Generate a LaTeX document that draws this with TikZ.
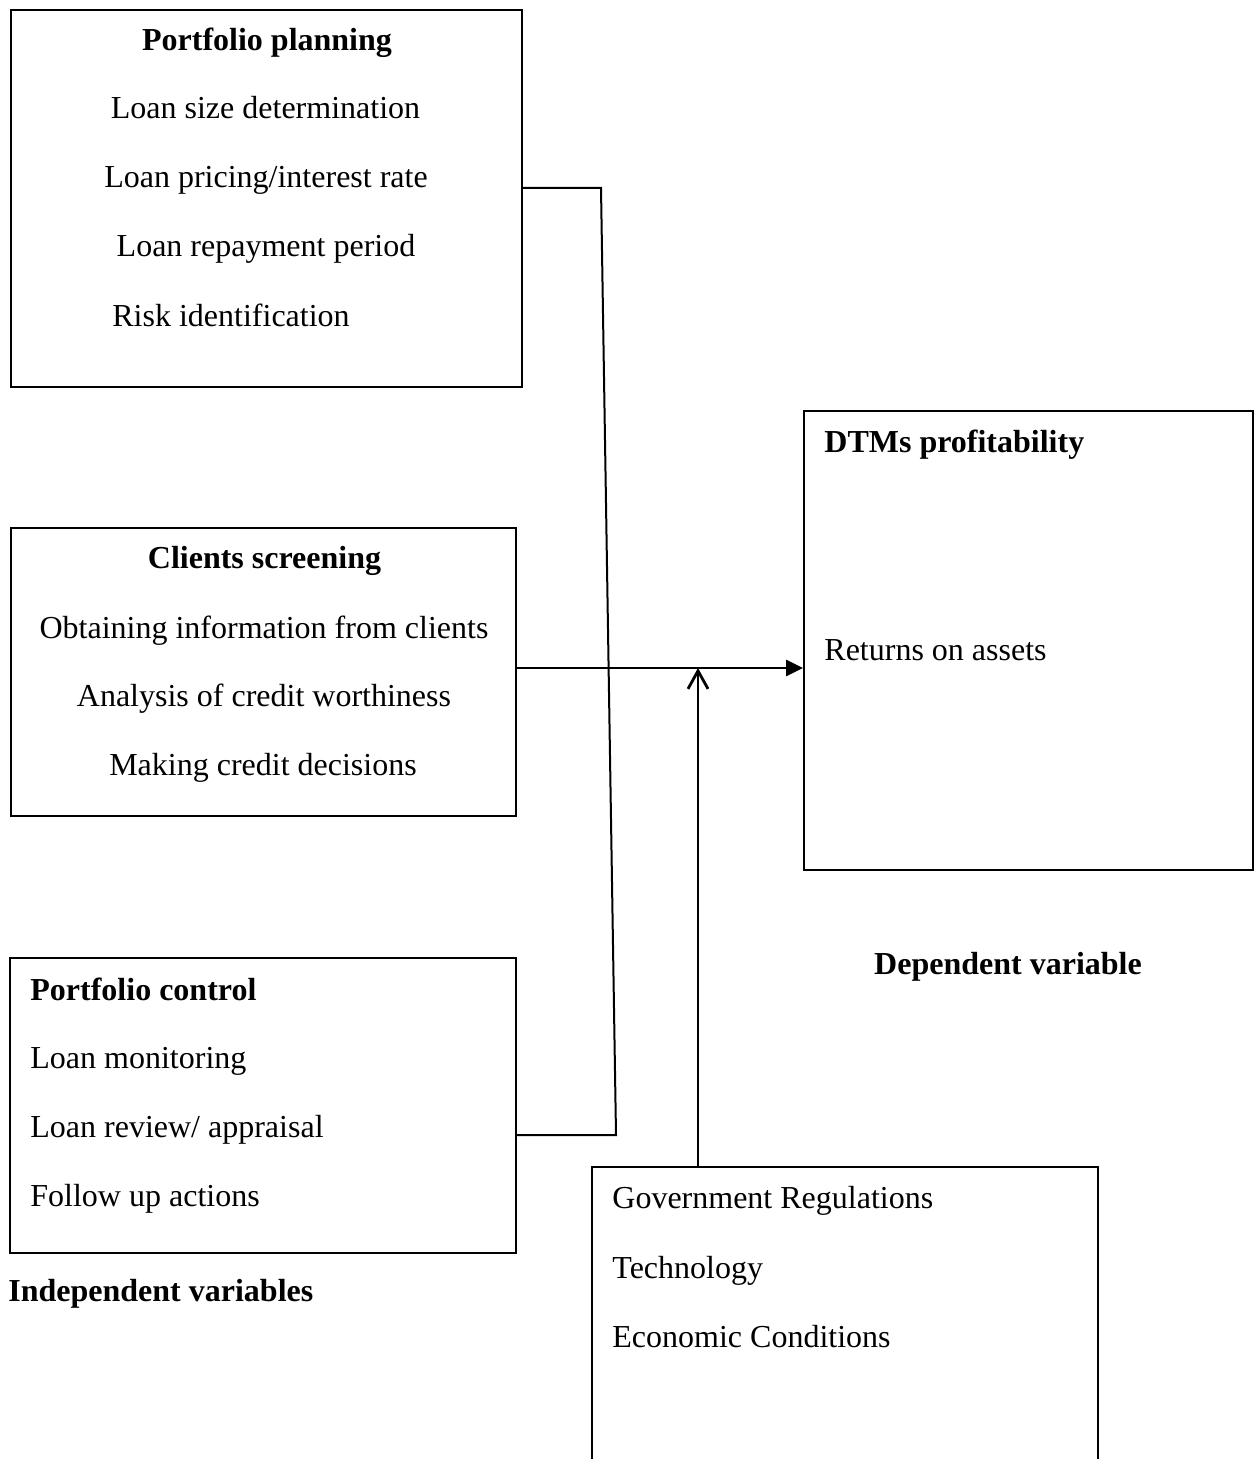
\documentclass[tikz,border=0pt]{standalone}
\usepackage{fontspec}
\setmainfont{Liberation Serif}
\usetikzlibrary{arrows.meta}

\begin{document}
\begin{tikzpicture}[x=0.5pt,y=-0.5pt,
  box/.style={draw,line width=1pt,inner sep=0pt},
  item/.style={inner sep=0pt,font=\fontsize{16}{19}\selectfont},
  head/.style={inner sep=0pt,font=\fontsize{16}{19}\selectfont\bfseries},
  link/.style={line width=1pt},
  flow/.style={line width=1.4pt}]

\useasboundingbox (0,0) rectangle (1255,1459); %% page size

%% boxes
\node[box,minimum width=255.5pt,minimum height=188.5pt] (plan) at (266.5,198.5) {};
\node[box,minimum width=252.5pt,minimum height=144pt] (screen) at (263.5,672) {};
\node[box,minimum width=224.5pt,minimum height=229.5pt] (profit) at (1028.5,640.5) {};
\node[box,minimum width=253pt,minimum height=147.5pt] (ctrl) at (263,1105.5) {};
\node[inner sep=0pt,minimum width=253pt,minimum height=146pt] (gov) at (845,1313) {};
\draw[link] (gov.south west) |- (gov.north east) -- (gov.south east); %% open at the bottom

%% portfolio planning
\node[head,anchor=base] (plantitle) at (267,51) {Portfolio planning};
\node[item,anchor=base] (plansize) at (265.5,119) {Loan size determination};
\node[item,anchor=base] (planprice) at (266,188) {Loan pricing/interest rate};
\node[item,anchor=base] (planrepay) at (266,257) {Loan repayment period};
\node[item,anchor=base west] (planrisk) at (112,327) {Risk identification};

%% clients screening
\node[head,anchor=base] (screentitle) at (264.5,568) {Clients screening};
\node[item,anchor=base] (screeninfo) at (264,638) {Obtaining information from clients};
\node[item,anchor=base] (screencredit) at (264,706) {Analysis of credit worthiness};
\node[item,anchor=base] (screendecide) at (263,775) {Making credit decisions};

%% portfolio control
\node[head,anchor=base west] (ctrltitle) at (30,1000) {Portfolio control};
\node[item,anchor=base west] (ctrlmonitor) at (30,1068) {Loan monitoring};
\node[item,anchor=base west] (ctrlreview) at (30,1137) {Loan review/ appraisal};
\node[item,anchor=base west] (ctrlfollow) at (30,1206) {Follow up actions};
\node[head,anchor=base west] (indep) at (8,1301) {Independent variables};

%% profitability
\node[head,anchor=base west] (profittitle) at (824,453) {DTMs profitability};
\node[item,anchor=base west] (profitroa) at (824,660) {Returns on assets};
\node[head,anchor=base] (dep) at (1008,974) {Dependent variable};

%% other factors
\node[item,anchor=base west] (govreg) at (612,1208) {Government Regulations};
\node[item,anchor=base west] (govtech) at (612,1278) {Technology};
\node[item,anchor=base west] (govecon) at (612,1347) {Economic Conditions};

%% connectors
\coordinate (bendtop) at (601,188);
\coordinate (bendbot) at (616,1135);
\coordinate (meet) at (698,668);
\draw[link] (plan.east |- bendtop) -- (bendtop) -- (bendbot) -- (ctrl.east |- bendbot);
\draw[flow,-{Triangle[length=8.5pt,width=8pt]}] (screen.east |- meet) -- (profit.west |- meet);
\draw[flow,-{Straight Barb[length=9pt,width=10pt]}] (gov.north -| meet) -- (meet);

\end{tikzpicture}
\end{document}
